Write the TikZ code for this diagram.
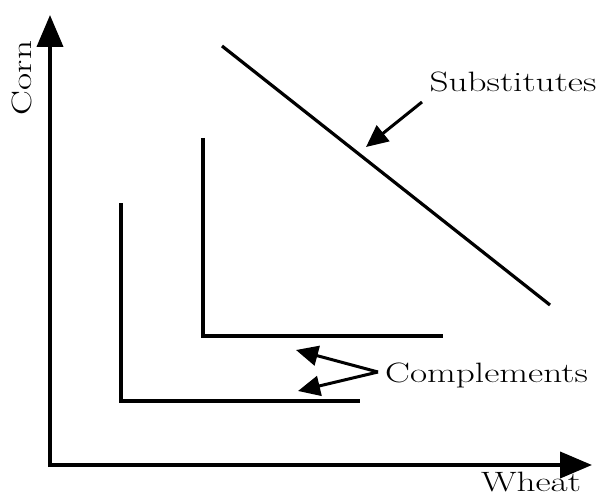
\documentclass[tikz,border=0pt]{standalone}
\usetikzlibrary{arrows.meta}
\tikzset{
  axis/.style={line width=4pt, -{Triangle[length=32pt,width=26pt]}},
  curve/.style={line width=3.2pt},
  pointer/.style={line width=3pt, -{Triangle[length=22pt,width=20pt]}},
  lbl/.style={inner sep=0pt, font=\fontsize{28}{32}\selectfont}
}
\newcommand{\wide}[1]{\scalebox{1.33}[1]{#1}}
\begin{document}
\begin{tikzpicture}[x=1pt, y=-1pt]
    \useasboundingbox (0,0) rectangle (612,497);

    % Axes
    \coordinate (origin) at (50,465);
    \coordinate (ytip) at (50,15);
    \coordinate (xtip) at (592,465);
    \draw[axis] (50,467) -- (ytip);
    \draw[axis] (48,465) -- (xtip);
    \node[lbl, rotate=90] (corn) at (22,78) {\wide{Corn}};
    \node[lbl] (wheat) at (531,482) {\wide{Wheat}};

    % Substitutes - straight line
    \coordinate (s1) at (222,46);
    \coordinate (s2) at (550,305);
    \draw[curve] (s1) -- (s2);

    % Complements - L shapes
    \coordinate (u1) at (203,138);
    \coordinate (u2) at (203,336);
    \coordinate (u3) at (443,336);
    \draw[curve] (u1) -- (u2) -- (u3);

    \coordinate (l1) at (121,203);
    \coordinate (l2) at (121,401);
    \coordinate (l3) at (360,401);
    \draw[curve] (l1) -- (l2) -- (l3);

    % Labels and pointers
    \node[lbl] (subst) at (513,82) {\wide{Substitutes}};
    \coordinate (sfrom) at (422,102);
    \coordinate (sto) at (366,147);
    \draw[pointer] (sfrom) -- (sto);

    \node[lbl, anchor=west] (compl) at (385,375) {\wide{Complements}};
    \coordinate (cjoin) at (378,372);
    \coordinate (cto1) at (296,350);
    \coordinate (cto2) at (298,391);
    \draw[pointer] (cjoin) -- (cto1);
    \draw[pointer] (cjoin) -- (cto2);

\end{tikzpicture}
\end{document}
